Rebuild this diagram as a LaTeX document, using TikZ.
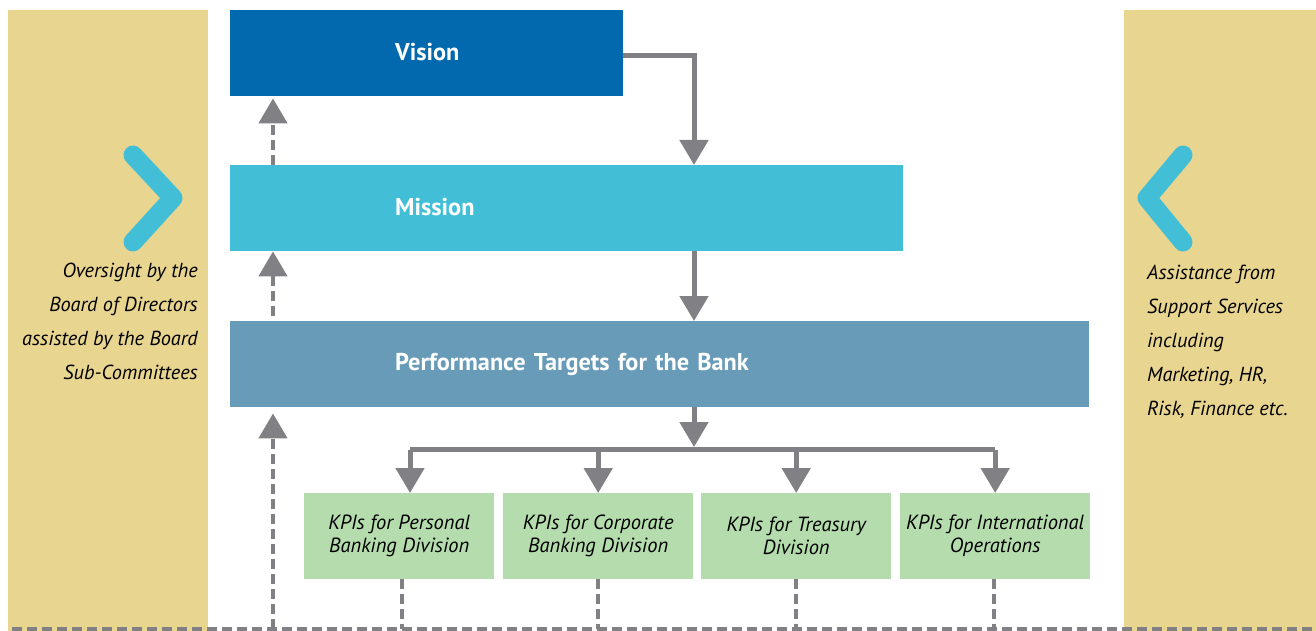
\documentclass[tikz,border=0pt]{standalone}
\usepackage{fontspec}
\setmainfont{PT Sans}
\usetikzlibrary{arrows.meta}
\definecolor{beige}{HTML}{E8D590}
\definecolor{visionblue}{HTML}{0369AF}
\definecolor{missioncyan}{HTML}{42BFD6}
\definecolor{perfblue}{HTML}{689BB8}
\definecolor{kpigreen}{HTML}{B5DCAD}
\definecolor{arrowgray}{HTML}{818185}
\begin{document}
\begin{tikzpicture}[x=1pt,y=-1pt,
  panel/.style={fill=beige, draw=none, anchor=north west, minimum width=#1, minimum height=621pt, inner sep=0pt},
  mainbox/.style={fill=#1, draw=none, anchor=north west, minimum height=86pt, inner xsep=165pt, inner ysep=0pt, align=left, text=white, font=\fontsize{24.3}{28}\selectfont\bfseries},
  kpibox/.style={fill=kpigreen, draw=none, anchor=north west, minimum width=190pt, minimum height=86pt, inner sep=0pt, align=center, font=\fontsize{20.5}{23}\selectfont\itshape},
  sidetext/.style={inner sep=0pt, font=\fontsize{20.3}{34}\selectfont\itshape},
  chev/.style={draw=missioncyan, line width=19pt, line cap=round, line join=round},
  solidarrow/.style={draw=arrowgray, line width=5pt, -{Triangle[width=28pt,length=25pt]}},
  solidline/.style={draw=arrowgray, line width=5pt},
  dashline/.style={draw=arrowgray, line width=4.5pt, dash pattern=on 10pt off 5pt},
  dasharrow/.style={dashline, -{Triangle[width=28pt,length=25pt]}}
]
\useasboundingbox (0,0) rectangle (1316,631);

% side panels
\node[panel=200pt] (lpanel) at (8,10) {};
\node[panel=192pt] (rpanel) at (1124,10) {};

% chevrons
\draw[chev] (133,155) -- (173,198) -- (133,242);
\draw[chev] (1183,155) -- (1147,198) -- (1183,242);

% side texts
\node[sidetext, align=right, anchor=east] (oversight) at (198,321)
  {Oversight by the\\Board of Directors\\assisted by the Board\\Sub-Committees};
\node[sidetext, align=left, anchor=west] (assist) at (1147,342)
  {Assistance from\\Support Services\\including\\Marketing, HR,\\Risk, Finance etc.};

% main boxes
\node[mainbox=visionblue, text width=63pt] (vision) at (230,10) {\raisebox{3pt}{Vision}};
\node[mainbox=missioncyan, text width=343pt] (mission) at (230,165) {\raisebox{3pt}{Mission}};
\node[mainbox=perfblue, text width=529pt] (perf) at (230,321) {\raisebox{3pt}{Performance Targets for the Bank}};

% KPI boxes
\node[kpibox] (kpi1) at (304,493) {KPIs for Personal\\Banking Division};
\node[kpibox] (kpi2) at (503,493) {KPIs for Corporate\\Banking Division};
\node[kpibox] (kpi3) at (701,493) {KPIs for Treasury\\Division};
\node[kpibox] (kpi4) at (900,493) {KPIs for International\\Operations};

% coordinates
\coordinate (spine) at (694,449.5);
\coordinate (b1) at (410,449.5);
\coordinate (base) at (12,629);
\coordinate (baseend) at (1316,629);
\coordinate (up) at (273,629);

% solid connectors
\draw[solidarrow] ([yshift=-2pt]vision.east) -| (spine |- mission.north);
\draw[solidarrow] (spine |- mission.south) -- (spine |- perf.north);
\draw[solidarrow, shorten >=2.5pt] (spine |- perf.south) -- (spine);
\draw[solidline] (b1) -- (kpi4.north |- spine);
\draw[solidarrow] (b1) -- (b1 |- kpi1.north);
\draw[solidarrow] (kpi2.north |- spine) -- (kpi2.north);
\draw[solidarrow] (kpi3.north |- spine) -- (kpi3.north);
\draw[solidarrow] (kpi4.north |- spine) -- (kpi4.north);

% dashed feedback
\draw[dashline] (base) -- (baseend);
\draw[dashline] ([xshift=3pt]kpi1.south) -- ([xshift=3pt]kpi1.south |- base);
\draw[dashline] (kpi2.south) -- (kpi2.south |- base);
\draw[dashline] (kpi3.south) -- (kpi3.south |- base);
\draw[dashline] ([xshift=-1pt]kpi4.south) -- ([xshift=-1pt]kpi4.south |- base);
\draw[dasharrow, shorten >=6pt] (up) -- (up |- perf.south);
\draw[dasharrow, shorten <=5pt] (up |- perf.north) -- (up |- mission.south);
\draw[dasharrow, shorten >=2pt] (up |- mission.north) -- (up |- vision.south);
\end{tikzpicture}
\end{document}
